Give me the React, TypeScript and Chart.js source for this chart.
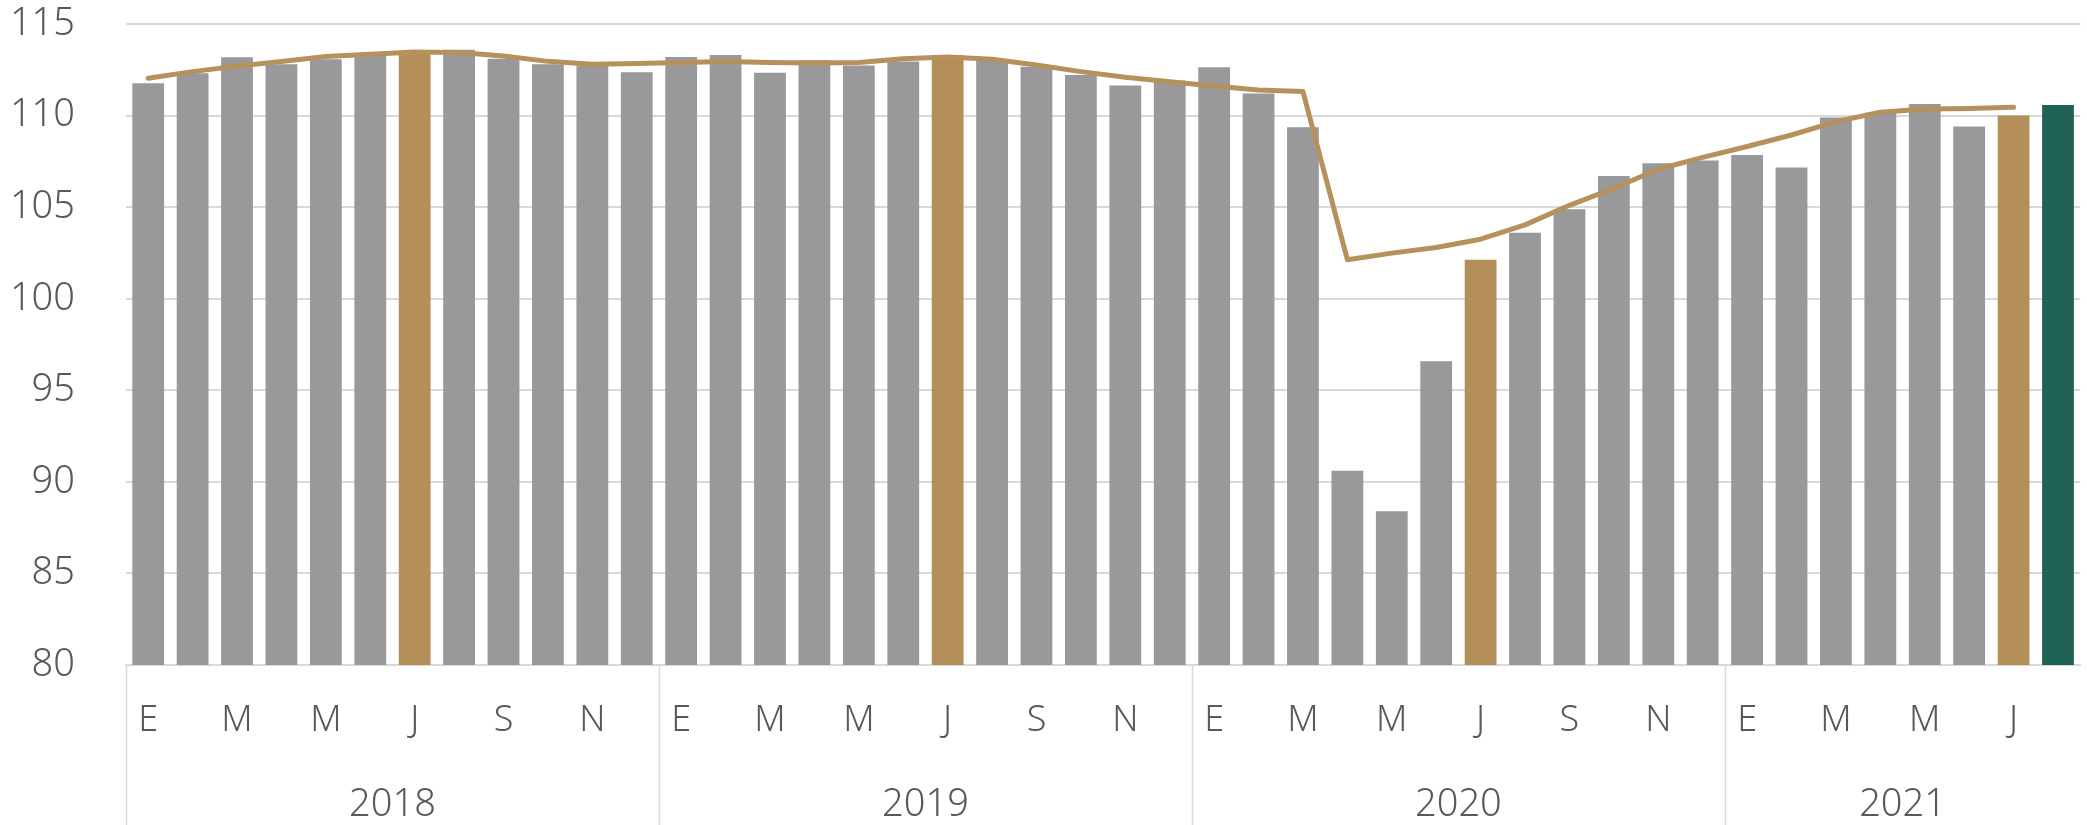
import React, { useEffect, useRef } from 'react';
import { Chart, registerables } from 'chart.js';

Chart.register(...registerables);

const monthLabels = [
  'E', 'F', 'M', 'A', 'M', 'J', 'J', 'A', 'S', 'O', 'N', 'D',
  'E', 'F', 'M', 'A', 'M', 'J', 'J', 'A', 'S', 'O', 'N', 'D',
  'E', 'F', 'M', 'A', 'M', 'J', 'J', 'A', 'S', 'O', 'N', 'D',
  'E', 'F', 'M', 'A', 'M', 'J', 'J', 'A',
];

const years = ['2018', '2019', '2020', '2021'];
const monthsPerYear = [12, 12, 12, 8];

const indexValues = [
  111.76, 112.31, 113.18, 112.8, 113.07, 113.25, 113.45, 113.6, 113.1, 112.8, 112.7, 112.36,
  113.2, 113.31, 112.34, 113.02, 112.73, 112.95, 113.31, 113.07, 112.67, 112.22, 111.64, 111.91,
  112.64, 111.2, 109.36, 90.61, 88.4, 96.58, 102.13, 103.6, 104.89, 106.7, 107.4, 107.54,
  107.85, 107.16, 109.89, 110.15, 110.63, 109.4, 110.0, 110.58,
];

const trendValues = [
  112.04, 112.4, 112.7, 112.95, 113.22, 113.35, 113.47, 113.45, 113.25, 112.96, 112.8, 112.85,
  112.9, 112.95, 112.9, 112.87, 112.9, 113.1, 113.2, 113.07, 112.76, 112.4, 112.09, 111.85,
  111.62, 111.4, 111.31, 102.13, 102.49, 102.8, 103.25, 104.03, 105.1, 106.03, 107.07, 107.72,
  108.31, 108.94, 109.67, 110.18, 110.36, 110.38, 110.45, null,
];

const GRAY = '#99999b';
const GOLD = '#b58f5a';
const GREEN = '#1f6155';
const LINE = '#b7915c';
const GRID = '#d9d9d9';
const TEXT = '#595959';
const FONT = '"Noto Sans", sans-serif';

export default function App() {
  const ref = useRef<HTMLCanvasElement>(null);

  useEffect(() => {
    const canvas = ref.current;
    if (!canvas) return;

    const barColors = indexValues.map((_, i) =>
      i === indexValues.length - 1 ? GREEN : i % 12 === 6 ? GOLD : GRAY
    );

    const yearCenters: number[] = [];
    const yearBounds: number[] = [];
    let start = 0;
    monthsPerYear.forEach((n) => {
      yearBounds.push(start - 0.5);
      yearCenters.push(start + (n - 1) / 2);
      start += n;
    });

    const separatorPlugin = {
      id: 'yearSeparators',
      afterDraw(chart: any) {
        const ys = chart.scales.year;
        const ctx = chart.ctx;
        ctx.save();
        ctx.strokeStyle = GRID;
        ctx.lineWidth = 1.5;
        yearBounds.forEach((b) => {
          const x = Math.round(ys.getPixelForValue(b)) + 0.5;
          ctx.beginPath();
          ctx.moveTo(x, chart.chartArea.bottom);
          ctx.lineTo(x, chart.height);
          ctx.stroke();
        });
        ctx.restore();
      },
    };

    const chart = new Chart(canvas, {
      type: 'bar',
      data: {
        labels: monthLabels,
        datasets: [
          {
            type: 'line',
            data: trendValues,
            borderColor: LINE,
            borderWidth: 5,
            pointRadius: 0,
            tension: 0,
            borderCapStyle: 'round',
            borderJoinStyle: 'round',
            spanGaps: false,
            order: 0,
            xAxisID: 'x',
            yAxisID: 'y',
          } as any,
          {
            type: 'bar',
            data: indexValues,
            backgroundColor: barColors,
            categoryPercentage: 1,
            barPercentage: 0.716,
            order: 1,
            xAxisID: 'x',
            yAxisID: 'y',
          } as any,
        ],
      },
      options: {
        responsive: false,
        animation: false,
        devicePixelRatio: 1,
        layout: { padding: { top: 24, right: 0, bottom: 0, left: 0 } },
        plugins: { legend: { display: false }, tooltip: { enabled: false } },
        scales: {
          x: {
            type: 'category',
            position: 'bottom',
            weight: 0,
            offset: true,
            grid: { display: false, drawTicks: false },
            border: { display: true, color: GRID, width: 2 },
            ticks: {
              autoSkip: false,
              maxRotation: 0,
              minRotation: 0,
              padding: 34,
              color: TEXT,
              font: { family: FONT, size: 36, weight: 300 },
              callback: (_v: any, i: number) => (i % 2 === 0 ? monthLabels[i] : ''),
            },
            afterFit: (s: any) => {
              s.height = 90;
            },
          },
          year: {
            type: 'linear',
            position: 'bottom',
            weight: 1,
            offset: false,
            bounds: 'data',
            min: -0.5,
            max: monthLabels.length - 0.5,
            grid: { display: false, drawTicks: false, offset: false },
            border: { display: false },
            ticks: {
              autoSkip: false,
              maxRotation: 0,
              minRotation: 0,
              padding: 27,
              color: TEXT,
              font: { family: FONT, size: 38, weight: 300 },
              callback: (_v: any, i: number) => years[i] ?? '',
            },
            afterBuildTicks: (s: any) => {
              s.ticks = yearCenters.map((v) => ({ value: v }));
            },
            afterFit: (s: any) => {
              s.height = 70;
            },
          } as any,
          y: {
            min: 80,
            max: 115,
            grid: {
              color: GRID,
              lineWidth: 2,
              drawTicks: true,
              tickLength: 51,
              tickColor: 'rgba(0,0,0,0)',
            },
            border: { display: false },
            ticks: {
              stepSize: 5,
              padding: 0,
              color: TEXT,
              font: { family: FONT, size: 38, weight: 300 },
            },
            afterFit: (s: any) => {
              s.width = 126;
            },
          },
        },
      } as any,
      plugins: [separatorPlugin],
    });

    return () => chart.destroy();
  }, []);

  return (
    <div
      style={{
        position: 'absolute',
        left: 0,
        top: 0,
        width: 2087,
        height: 825,
        overflow: 'hidden',
        background: '#ffffff',
      }}
    >
      <canvas ref={ref} width={2092} height={825} style={{ display: 'block' }} />
    </div>
  );
}
